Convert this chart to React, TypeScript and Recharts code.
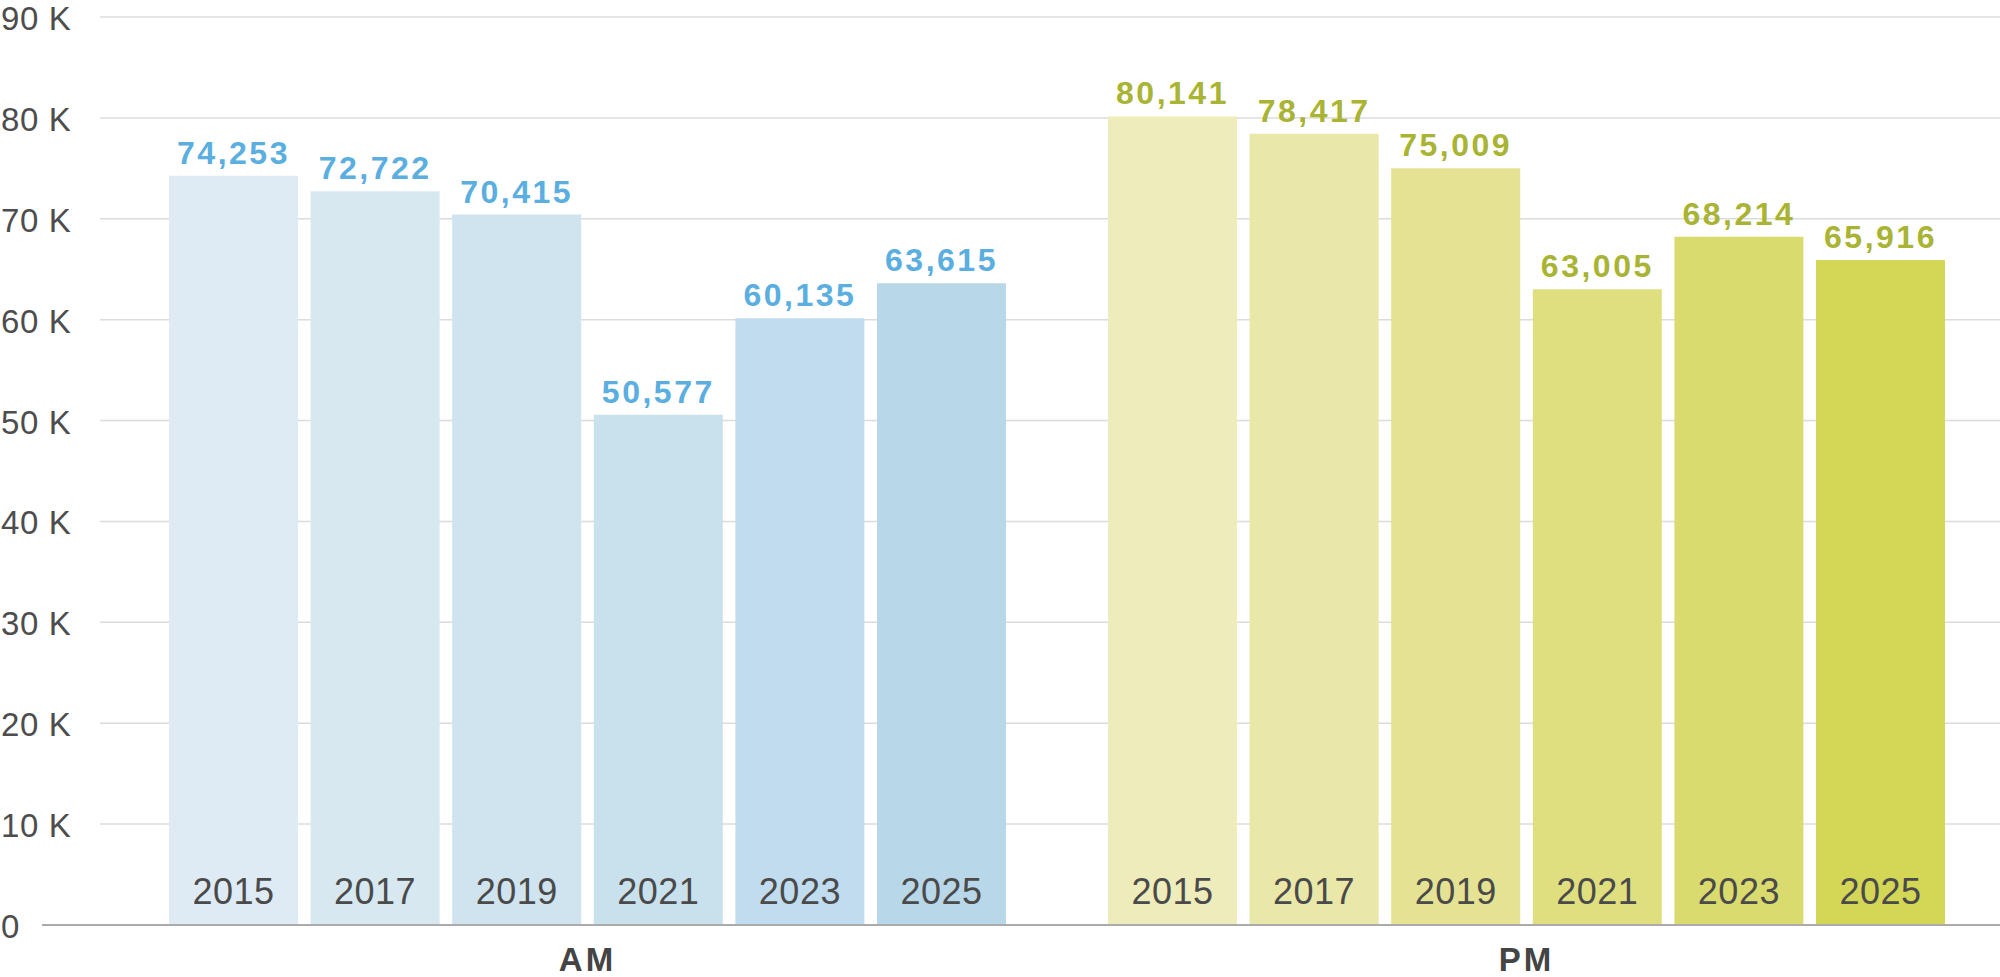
import React from 'react';
import { BarChart, Bar, XAxis, YAxis, CartesianGrid, Cell, LabelList } from 'recharts';

const groups = ['AM', 'PM'];
const years = ['2015', '2017', '2019', '2021', '2023', '2025'];
const amValues = [74253, 72722, 70415, 50577, 60135, 63615];
const pmValues = [80141, 78417, 75009, 63005, 68214, 65916];
const yTicks = [0, 10000, 20000, 30000, 40000, 50000, 60000, 70000, 80000, 90000];

const amColors = ['#dfebf4', '#d7e8f1', '#d0e4ef', '#c9e0ed', '#c0dcee', '#b8d7e8'];
const pmColors = ['#eeecbb', '#e9e8a8', '#e5e393', '#e0df80', '#dadb6e', '#d4d656'];
const labelColors = ['#5aaee0', '#a9b434'];

const seriesValues = [amValues, pmValues];
const chartData = groups.map((g, gi) => {
  const row: Record<string, any> = { group: g };
  years.forEach((y, yi) => {
    row['y' + y] = seriesValues[gi][yi];
  });
  return row;
});

const FONT = '"Liberation Sans", Arial, sans-serif';

const YTick = (props: any) => {
  const { y, payload } = props;
  const v = payload.value;
  const label = v === 0 ? '0' : `${v / 1000} K`;
  return (
    <g>
      <text x={1} y={y + 13} textAnchor="start" fontFamily={FONT} fontSize={33} letterSpacing={0.6} fill="#4d4d4d">
        {label}
      </text>
      {v === 0 ? <line x1={42} x2={101} y1={y} y2={y} stroke="#ababab" strokeWidth={2} /> : null}
    </g>
  );
};

const XTick = (props: any) => {
  const { x, y, payload } = props;
  return (
    <text x={x} y={y + 46} textAnchor="middle" fontFamily={FONT} fontWeight="bold" fontSize={33} letterSpacing={3} fill="#444444">
      {payload.value}
    </text>
  );
};

const makeValueLabel = () => (props: any) => {
  const { x, y, width, value, index } = props;
  return (
    <text x={x + width / 2} y={y - 12} textAnchor="middle" fontFamily={FONT} fontWeight="bold" fontSize={32} letterSpacing={2.5} fill={labelColors[index]}>
      {Number(value).toLocaleString('en-US')}
    </text>
  );
};

const makeYearLabel = (year: string) => (props: any) => {
  const { x, y, width, height } = props;
  return (
    <text x={x + width / 2} y={y + height - 21} textAnchor="middle" fontFamily={FONT} fontSize={36} letterSpacing={0.5} fill="#4a4a4a">
      {year}
    </text>
  );
};

export default function App() {
  return (
    <div style={{ position: 'absolute', left: 0, top: 0, width: 2000, height: 977, background: '#fff' }}>
      <BarChart
        width={2000}
        height={977}
        data={chartData}
        margin={{ top: 17, right: 0, bottom: 0, left: 0 }}
        barSize={129}
        barGap={12.6}
      >
        <CartesianGrid horizontal vertical={false} stroke="#dcdcdc" strokeWidth={1.5} />
        <XAxis
          dataKey="group"
          height={52}
          padding={{ left: 18, right: 4 }}
          axisLine={{ stroke: '#ababab', strokeWidth: 2 }}
          tickLine={false}
          tickSize={0}
          tickMargin={0}
          tick={<XTick />}
          interval={0}
        />
        <YAxis
          width={100}
          domain={[0, 90000]}
          ticks={yTicks}
          axisLine={false}
          tickLine={false}
          tick={<YTick />}
          interval={0}
        />
        {years.map((yr, yi) => (
          <Bar key={yr} dataKey={'y' + yr} isAnimationActive={false}>
            {chartData.map((_, gi) => (
              <Cell key={gi} fill={gi === 0 ? amColors[yi] : pmColors[yi]} />
            ))}
            <LabelList dataKey={'y' + yr} content={makeValueLabel()} />
            <LabelList dataKey={'y' + yr} content={makeYearLabel(yr)} />
          </Bar>
        ))}
      </BarChart>
    </div>
  );
}
